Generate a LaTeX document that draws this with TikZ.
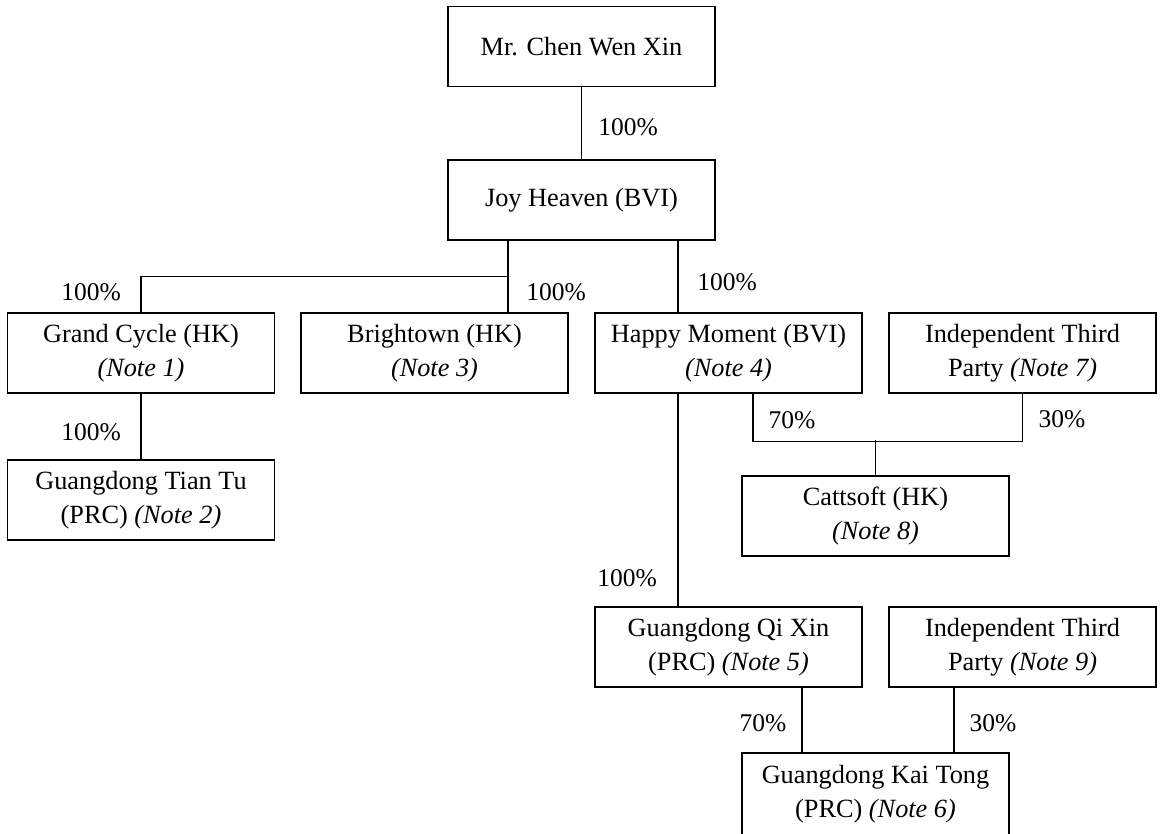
\documentclass[tikz,border=0pt]{standalone}
\usepackage{fontspec}
\setmainfont{Liberation Serif}
\begin{document}
\begin{tikzpicture}[x=1pt,y=-1pt,
  box/.style={draw, line width=1.2pt, minimum width=267pt, minimum height=80pt, inner sep=0pt, align=center, font=\fontsize{26.3}{34}\selectfont},
  pct/.style={font=\fontsize{25.5}{30}\selectfont, inner sep=0pt},
  conn/.style={line width=1.2pt}]
\useasboundingbox (0,0) rectangle (1162,833);
\node[box] (chen) at (581.5,46.5) {Mr. Chen Wen Xin};
\node[box] (joy) at (581.5,200) {Joy Heaven (BVI)};
\node[box] (gc) at (141,353) {Grand Cycle (HK)\\\textit{(Note 1)}};
\node[box] (brt) at (434.5,353) {Brightown (HK)\\\textit{(Note 3)}};
\node[box] (hm) at (728.5,353) {Happy Moment (BVI)\\\textit{(Note 4)}};
\node[box] (it7) at (1022.5,353) {Independent Third\\Party \textit{(Note 7)}};
\node[box] (tt) at (141,500) {Guangdong Tian Tu\\(PRC) \textit{(Note 2)}};
\node[box] (cat) at (875.5,516) {Cattsoft (HK)\\\textit{(Note 8)}};
\node[box] (qx) at (728.5,647) {Guangdong Qi Xin\\(PRC) \textit{(Note 5)}};
\node[box] (it9) at (1022.5,647) {Independent Third\\Party \textit{(Note 9)}};
\node[box, minimum height=82pt] (kt) at (875.5,794) {Guangdong Kai Tong\\(PRC) \textit{(Note 6)}};

\draw[conn] (chen) -- (joy);
\draw[conn] ([xshift=-73.5pt]joy.south) -- ([xshift=-73.5pt]joy.south |- brt.north);
\draw[conn] (gc.north) -- ++(0,-36) -| ([xshift=-73.5pt]joy.south);
\draw[conn] ([xshift=96.5pt]joy.south) -- ([xshift=96.5pt]joy.south |- hm.north);
\draw[conn] (gc) -- (tt);
\draw[conn] ([xshift=-50.5pt]hm.south) -- ([xshift=-50.5pt]hm.south |- qx.north);
\draw[conn] ([xshift=24.5pt]hm.south) -- ++(0,48) -| (it7.south);
\draw[conn] (cat.north) -- ++(0,-35);
\draw[conn] ([xshift=73.5pt]qx.south) -- ([xshift=73.5pt]qx.south |- kt.north);
\draw[conn] ([xshift=-68.5pt]it9.south) -- ([xshift=-68.5pt]it9.south |- kt.north);

\node[pct] (p1) at (628,127) {100\%};
\node[pct] (p2) at (91,292) {100\%};
\node[pct] (p3) at (556,292) {100\%};
\node[pct] (p4) at (727,282) {100\%};
\node[pct] (p5) at (91,432) {100\%};
\node[pct] (p6) at (792,420) {70\%};
\node[pct] (p7) at (1062,419) {30\%};
\node[pct] (p8) at (627,578) {100\%};
\node[pct] (p9) at (763,723) {70\%};
\node[pct] (p10) at (993,723) {30\%};
\end{tikzpicture}
\end{document}
